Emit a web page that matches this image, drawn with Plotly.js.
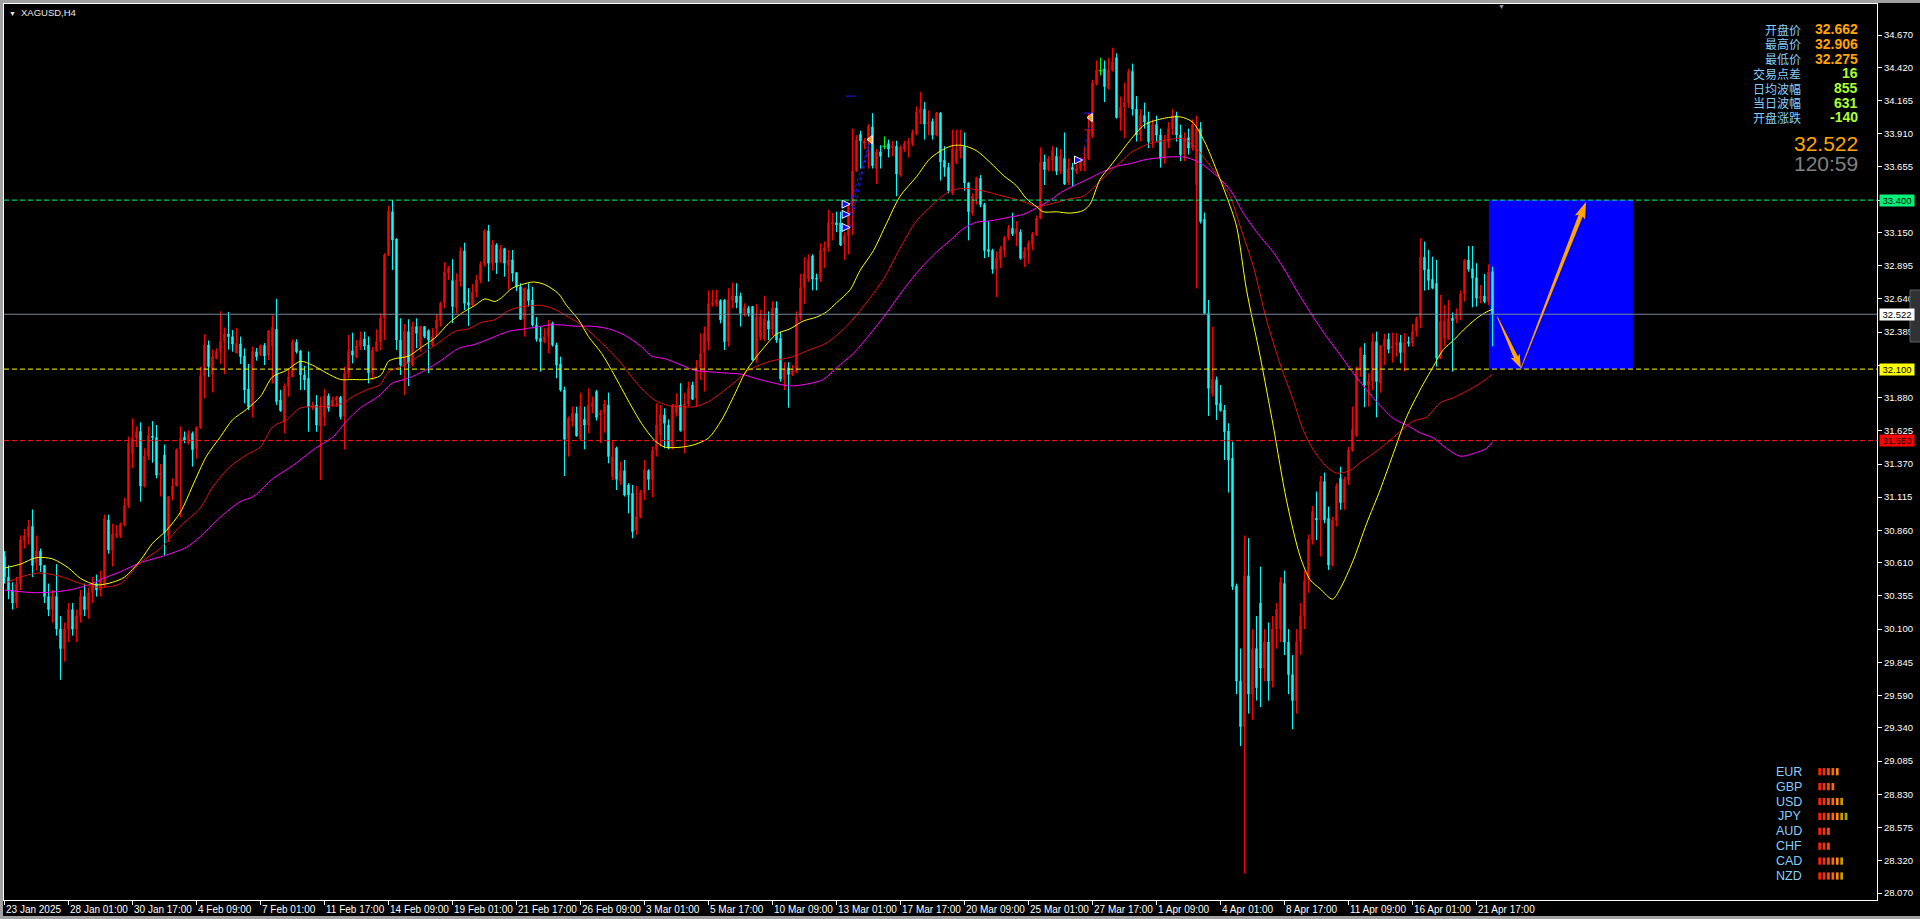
<!DOCTYPE html>
<html>
<head>
<meta charset="utf-8">
<script src="https://cdn.plot.ly/plotly-3.0.1.min.js"></script>
<style>
html,body{margin:0;padding:0;background:#000;overflow:hidden;}
#chart{position:absolute;left:0;top:0;width:1920px;height:919px;}
#frame{position:absolute;left:0;top:0;width:1920px;height:919px;box-sizing:border-box;
  border-top:3px solid #a0a0a0;border-left:3px solid #a0a0a0;border-bottom:3px solid #a0a0a0;pointer-events:none;}
</style>
</head>
<body>
<div id="chart"></div>
<div id="frame"></div>
<script>
// XAGUSD H4 bars, 23 Jan 2025 09:00 .. 22 Apr 2025 09:00 (bar index 0..372)
const openP = [
30.66,30.50,30.40,30.30,30.45,30.78,30.81,30.89,30.61,30.70,
30.59,30.35,30.25,30.35,30.10,29.95,30.10,30.25,30.10,30.20,
30.35,30.25,30.38,30.45,30.40,30.45,30.94,30.71,30.82,30.82,
30.90,31.05,31.45,31.57,31.62,31.20,31.43,31.585,31.575,31.285,
31.44,30.82,31.12,31.20,31.48,31.575,31.53,31.605,31.49,31.65,
32.05,32.285,32.06,32.18,32.236,32.313,32.37,32.35,32.226,32.293,
32.20,31.947,31.81,32.234,32.208,32.282,32.208,32.277,32.406,31.862,
31.688,31.965,32.041,32.308,32.239,32.054,32.029,31.806,31.823,31.662,
31.734,31.893,31.823,31.857,31.883,31.739,32.067,32.241,32.195,32.272,
32.331,32.285,32.072,32.241,32.311,32.491,32.978,33.311,33.101,32.324,
32.119,32.388,32.132,32.427,32.273,32.427,32.396,32.286,32.414,32.473,
32.606,32.837,32.781,32.576,32.773,33.009,32.614,32.593,32.691,32.786,
32.904,33.165,32.914,33.055,32.927,33.027,32.901,32.940,32.842,32.734,
32.483,32.714,32.632,32.439,32.337,32.311,32.350,32.452,32.286,32.140,
31.940,31.560,31.696,31.760,31.560,31.714,31.670,31.811,31.927,31.747,
31.765,31.824,31.273,31.491,31.242,31.319,31.209,31.145,30.863,30.960,
31.145,31.319,31.252,31.478,31.593,31.747,31.670,31.491,31.760,31.824,
31.627,31.832,31.978,31.876,32.114,32.222,32.311,32.593,32.601,32.627,
32.632,32.311,32.627,32.663,32.663,32.529,32.568,32.581,32.170,32.344,
32.332,32.472,32.408,32.570,32.336,32.025,32.110,32.059,32.076,32.493,
32.727,32.792,32.970,32.800,32.792,33.004,33.034,33.217,33.226,33.226,
33.068,33.124,33.354,33.622,33.907,33.835,33.856,33.963,33.643,33.771,
33.814,33.835,33.805,33.814,33.592,33.792,33.835,33.835,33.907,34.069,
34.099,33.984,34.005,33.899,34.069,33.707,33.652,33.452,33.694,33.780,
33.814,33.532,33.302,33.409,33.567,33.366,33.021,33.013,32.868,32.941,
33.013,33.111,33.183,33.141,33.154,32.953,33.013,33.056,33.132,33.260,
33.694,33.635,33.707,33.737,33.622,33.720,33.537,33.652,33.622,33.643,
33.665,33.720,33.890,34.291,34.395,34.410,34.261,34.401,34.495,34.035,
34.112,34.146,34.389,34.100,33.900,34.050,34.000,33.850,33.980,33.900,
33.720,33.850,33.950,34.050,33.900,33.750,33.880,33.800,33.520,33.950,
33.252,32.529,31.914,32.017,31.837,31.786,31.624,31.414,30.430,29.700,
29.350,30.510,29.600,29.950,30.300,29.800,30.000,29.700,30.100,30.100,
30.450,30.000,29.750,29.550,30.000,30.200,30.480,30.786,30.953,30.940,
31.235,30.953,30.593,30.935,31.260,31.073,31.247,31.473,31.586,32.106,
32.209,31.978,32.004,32.311,31.991,32.273,32.329,32.260,32.278,32.304,
32.227,32.309,32.299,32.388,32.491,32.960,32.868,32.791,32.760,32.183,
32.337,32.329,32.491,32.483,32.524,32.678,32.940,32.873,32.804,32.645,
32.662,32.619,32.850];
const highP = [
30.70,30.59,30.46,30.50,30.82,30.87,30.94,31.02,30.82,30.72,
30.59,30.45,30.40,30.60,30.20,30.15,30.30,30.30,30.25,30.40,
30.45,30.42,30.50,30.52,30.55,30.98,30.98,30.91,30.90,30.92,
31.11,31.58,31.72,31.66,31.69,31.49,31.66,31.70,31.67,31.37,
31.52,31.12,31.26,31.49,31.66,31.62,31.63,31.62,31.66,32.12,
32.37,32.32,32.25,32.26,32.544,32.42,32.54,32.40,32.416,32.35,
32.26,32.14,32.272,32.262,32.288,32.30,32.40,32.513,32.64,31.94,
31.99,32.098,32.329,32.329,32.247,32.124,32.236,31.849,31.90,31.888,
31.947,31.913,31.888,31.893,31.893,32.118,32.362,32.38,32.324,32.388,
32.388,32.35,32.272,32.406,32.529,32.991,33.357,33.401,33.106,32.491,
32.447,32.483,32.465,32.491,32.432,32.427,32.406,32.414,32.524,32.619,
32.922,32.893,32.945,32.837,33.037,33.073,32.722,32.755,32.824,32.927,
33.175,33.209,33.093,33.068,33.055,33.034,33.016,33.016,32.842,32.760,
32.727,32.760,32.734,32.500,32.427,32.414,32.478,32.465,32.304,32.196,
31.965,31.735,31.811,31.811,31.919,31.811,31.952,31.888,31.940,31.786,
31.863,31.919,31.555,31.504,31.388,31.401,31.222,31.209,31.201,31.170,
31.401,31.329,31.504,31.837,31.824,31.798,31.714,31.830,31.914,31.991,
31.919,32.004,32.004,32.170,32.375,32.427,32.704,32.709,32.709,32.637,
32.637,32.722,32.765,32.760,32.688,32.606,32.586,32.586,32.600,32.557,
32.664,32.544,32.621,32.621,32.387,32.153,32.153,32.131,32.544,32.834,
32.962,32.983,32.983,32.834,33.068,33.081,33.324,33.302,33.311,33.311,
33.153,33.379,33.950,33.899,33.933,33.877,33.984,34.069,33.792,33.822,
33.890,33.865,33.856,33.856,33.822,33.856,33.877,33.941,34.120,34.231,
34.154,34.090,34.027,34.078,34.078,33.814,33.686,33.941,33.941,33.941,
33.920,33.537,33.452,33.580,33.592,33.379,33.239,33.026,33.004,33.047,
33.124,33.209,33.303,33.239,33.175,33.038,33.090,33.154,33.281,33.805,
33.750,33.737,33.814,33.805,33.792,33.920,33.720,33.686,33.677,33.728,
33.814,34.069,34.325,34.474,34.495,34.474,34.495,34.572,34.529,34.197,
34.303,34.410,34.450,34.200,34.100,34.150,34.080,34.020,34.050,33.950,
33.900,34.000,34.100,34.080,33.980,33.920,33.950,34.020,34.050,34.000,
33.304,32.632,32.427,32.042,31.978,31.824,31.683,31.542,30.450,29.950,
30.820,30.800,30.100,30.200,30.580,30.100,30.150,30.200,30.300,30.500,
30.550,30.100,29.900,30.100,30.300,30.550,30.825,31.047,31.158,31.278,
31.304,31.042,30.965,31.222,31.350,31.273,31.504,31.811,32.119,32.273,
32.299,32.068,32.376,32.388,32.286,32.370,32.376,32.381,32.376,32.363,
32.376,32.350,32.447,32.504,33.106,33.081,33.017,32.965,32.940,32.670,
32.594,32.632,32.535,32.568,32.704,32.945,33.047,33.047,32.914,32.747,
32.832,32.906,32.888];
const lowP = [
30.45,30.33,30.25,30.26,30.40,30.72,30.75,30.50,30.55,30.54,
30.30,30.20,30.15,30.05,29.71,29.85,30.00,30.05,30.00,30.15,
30.20,30.18,30.30,30.35,30.35,30.42,30.68,30.58,30.80,30.80,
30.89,31.03,31.34,31.50,31.08,31.19,31.40,31.38,31.26,31.12,
30.67,30.77,31.09,31.20,30.96,31.53,31.52,31.35,31.41,31.64,
31.875,32.04,31.92,32.18,32.14,32.06,32.25,32.234,32.22,32.14,
31.836,31.785,31.729,32.165,32.20,32.131,32.17,31.99,31.824,31.772,
31.606,31.888,32.04,32.22,31.939,31.939,31.618,31.785,31.618,31.247,
31.662,31.772,31.81,31.81,31.713,31.482,32.029,32.144,32.183,32.247,
32.247,31.99,32.016,32.234,32.247,32.324,32.970,32.863,32.247,32.055,
31.900,31.970,32.119,32.260,32.234,32.337,32.068,32.273,32.350,32.427,
32.568,32.786,32.452,32.529,32.734,32.555,32.432,32.581,32.652,32.760,
32.888,32.773,32.858,32.832,32.914,32.811,32.709,32.773,32.700,32.478,
32.350,32.581,32.427,32.311,32.081,32.299,32.222,32.273,32.030,31.927,
31.278,31.427,31.658,31.581,31.555,31.483,31.606,31.760,31.704,31.530,
31.611,31.375,31.247,31.170,31.209,31.120,30.991,30.799,30.824,30.952,
31.094,31.170,31.114,31.427,31.504,31.491,31.483,31.483,31.735,31.619,
31.452,31.811,31.863,31.811,32.017,31.927,32.247,32.581,32.581,32.452,
32.247,32.273,32.568,32.568,32.427,32.504,32.504,32.165,32.150,32.323,
32.315,32.323,32.357,32.302,32.004,31.940,31.803,32.046,32.068,32.472,
32.600,32.770,32.706,32.706,32.770,32.877,33.004,33.090,33.153,33.047,
32.940,32.983,33.132,33.620,33.643,33.792,33.643,33.643,33.524,33.643,
33.792,33.728,33.737,33.430,33.580,33.771,33.728,33.814,33.899,33.984,
33.865,33.899,33.865,33.890,33.550,33.580,33.452,33.439,33.677,33.720,
33.473,33.090,33.281,33.366,33.345,32.953,32.962,32.834,32.655,32.877,
32.962,33.090,33.124,33.047,32.941,32.885,32.911,33.013,33.124,33.252,
33.516,33.622,33.622,33.592,33.601,33.516,33.516,33.507,33.601,33.622,
33.622,33.707,33.877,34.282,34.359,34.154,34.248,34.389,34.027,33.933,
33.877,34.112,34.050,33.850,33.850,33.950,33.800,33.800,33.850,33.650,
33.680,33.800,33.900,33.850,33.700,33.700,33.750,33.780,32.720,33.220,
32.524,31.740,31.888,31.709,31.773,31.401,31.150,30.401,29.600,29.200,
28.220,29.450,29.400,29.550,29.500,29.700,29.550,29.650,29.950,30.000,
29.900,29.600,29.330,29.450,29.900,30.100,30.380,30.750,30.786,30.658,
30.914,30.555,30.581,30.888,31.017,31.017,31.209,31.465,31.581,32.042,
31.806,31.811,31.940,31.729,31.919,32.132,32.222,32.150,32.196,32.145,
32.081,32.273,32.273,32.350,32.414,32.704,32.709,32.714,32.119,32.176,
32.273,32.324,32.081,32.452,32.478,32.619,32.850,32.576,32.581,32.606,
32.606,32.594,32.275];
const closeP = [
30.50,30.40,30.30,30.45,30.785,30.82,30.89,30.59,30.70,30.59,
30.35,30.25,30.35,30.10,29.95,30.10,30.25,30.10,30.20,30.35,
30.25,30.38,30.45,30.40,30.48,30.95,30.71,30.83,30.83,30.91,
31.05,31.53,31.57,31.62,31.20,31.43,31.59,31.575,31.285,31.30,
30.84,31.12,31.20,31.48,31.57,31.555,31.605,31.48,31.65,32.05,
32.285,32.12,32.195,32.236,32.313,32.37,32.35,32.293,32.298,32.195,
31.94,31.806,32.236,32.195,32.282,32.20,32.395,32.421,31.85,31.78,
31.97,32.041,32.31,32.234,32.054,32.016,31.81,31.823,31.67,31.816,
31.893,31.798,31.862,31.883,31.734,32.067,32.236,32.208,32.277,32.324,
32.277,32.072,32.246,32.31,32.491,32.978,33.311,33.093,32.324,32.132,
32.388,32.145,32.427,32.375,32.427,32.350,32.324,32.350,32.478,32.606,
32.847,32.875,32.581,32.786,33.009,32.606,32.593,32.691,32.786,32.904,
33.165,32.914,33.055,32.919,33.027,32.914,32.940,32.837,32.734,32.483,
32.722,32.627,32.439,32.329,32.311,32.350,32.414,32.286,32.132,31.940,
31.560,31.722,31.760,31.586,31.817,31.670,31.824,31.842,31.729,31.765,
31.832,31.427,31.427,31.252,31.319,31.132,31.132,30.850,30.965,31.150,
31.324,31.252,31.473,31.670,31.747,31.683,31.491,31.824,31.824,31.627,
31.832,31.952,31.868,32.114,32.217,32.375,32.601,32.611,32.637,32.478,
32.311,32.632,32.663,32.611,32.529,32.573,32.529,32.170,32.500,32.502,
32.485,32.408,32.570,32.323,32.025,32.102,32.059,32.102,32.502,32.727,
32.834,32.941,32.792,32.792,33.013,33.034,33.226,33.234,33.209,33.055,
33.124,33.366,33.622,33.865,33.856,33.856,33.971,33.665,33.771,33.737,
33.814,33.792,33.814,33.601,33.805,33.835,33.848,33.920,34.078,34.099,
33.984,33.992,33.899,34.069,33.694,33.652,33.473,33.792,33.792,33.814,
33.532,33.311,33.430,33.567,33.366,33.013,33.004,32.868,32.953,33.026,
33.111,33.183,33.141,33.183,32.953,33.004,33.068,33.141,33.260,33.694,
33.635,33.720,33.780,33.622,33.737,33.524,33.643,33.635,33.643,33.707,
33.720,33.941,34.303,34.401,34.395,34.274,34.401,34.461,34.035,34.112,
34.154,34.389,34.100,33.900,34.050,34.000,33.850,33.980,33.900,33.720,
33.850,33.950,34.050,33.900,33.750,33.880,33.800,33.980,33.950,33.235,
32.529,31.952,32.022,31.824,31.781,31.619,31.401,30.427,29.700,29.350,
30.510,29.600,29.950,29.650,29.800,30.000,29.700,30.100,30.250,30.460,
30.000,29.750,29.550,30.000,30.200,30.470,30.790,31.004,30.940,31.235,
30.940,30.593,30.940,31.201,31.073,31.252,31.478,31.637,32.106,32.260,
31.978,32.009,32.311,32.004,32.278,32.329,32.252,32.278,32.304,32.227,
32.304,32.299,32.388,32.491,32.960,32.863,32.781,32.722,32.183,32.465,
32.465,32.491,32.473,32.524,32.678,32.935,32.868,32.799,32.645,32.658,
32.619,32.847,32.522];

// Moving averages, [bar index, value]
const maFast = [[0,30.57],[4,30.60],[8,30.65],[12,30.64],[16,30.57],[19,30.49],[23,30.44],[27,30.46],[30,30.50],[34,30.63],[37,30.76],[40.5,30.86],[44,31.00],[47,31.20],[50.5,31.43],[54,31.58],[57,31.71],[60.5,31.79],[64,31.89],[67,32.04],[70.5,32.09],[74,32.16],[77,32.13],[80.5,32.07],[84,32.02],[87,32.02],[90.5,32.02],[94,32.05],[96,32.16],[97.6,32.18],[101,32.20],[104.3,32.27],[107.6,32.34],[111,32.45],[114.3,32.53],[117.6,32.59],[120.1,32.64],[122.6,32.62],[124.3,32.65],[126.8,32.72],[129.3,32.75],[132.2,32.77],[135.1,32.75],[138.5,32.68],[140.5,32.59],[143.5,32.48],[146,32.35],[149.3,32.22],[151.8,32.09],[154.3,31.95],[156.8,31.81],[159.3,31.68],[162.6,31.55],[165.1,31.50],[169.3,31.50],[172.6,31.52],[176,31.57],[179.3,31.71],[182.6,31.91],[185.1,32.07],[187.6,32.18],[189.7,32.26],[193,32.37],[196.4,32.41],[199.7,32.47],[203,32.50],[205.5,32.54],[208,32.61],[211.4,32.71],[213.9,32.86],[217.2,33.01],[220.5,33.22],[223.9,33.43],[228,33.58],[231.4,33.72],[234.7,33.79],[237.2,33.82],[239.7,33.82],[243,33.78],[246.4,33.69],[249.7,33.59],[253,33.51],[255.5,33.41],[258,33.35],[259.7,33.31],[263,33.31],[266.4,33.30],[269.7,33.32],[271.4,33.37],[273.9,33.56],[276.4,33.66],[278.9,33.76],[281.4,33.86],[285,33.98],[290,34.03],[294,34.04],[297,34.00],[300,33.85],[303,33.63],[305.5,33.43],[308,33.20],[310.5,32.71],[313.9,32.20],[317.2,31.66],[320.5,31.09],[323.9,30.66],[326.4,30.48],[328.9,30.41],[332,30.33],[333.9,30.41],[337.2,30.63],[340.5,30.91],[343.9,31.17],[347.2,31.45],[350.5,31.73],[353.9,31.94],[357.2,32.12],[359.7,32.25],[362.2,32.32],[364.7,32.40],[368,32.49],[370.5,32.54],[372,32.56]];
const maMid = [[0,30.45],[4,30.50],[8,30.53],[12,30.52],[15.5,30.49],[19,30.45],[24,30.42],[29,30.45],[33.9,30.61],[38.9,30.72],[43.9,30.89],[48.9,31.03],[52.2,31.20],[56.4,31.35],[60.5,31.44],[63.9,31.50],[67.2,31.66],[70.5,31.71],[73.9,31.80],[78.9,31.81],[82.2,31.82],[84.7,31.84],[87.2,31.89],[90.5,31.94],[93.9,31.98],[96,32.08],[99.3,32.12],[102.6,32.18],[106,32.25],[109.3,32.32],[112.6,32.39],[116,32.41],[119.3,32.46],[122.6,32.48],[126,32.55],[129.3,32.58],[132.6,32.59],[134.3,32.59],[137.6,32.56],[141,32.50],[144.3,32.44],[147.6,32.35],[151,32.25],[154.3,32.14],[156.8,32.04],[159.3,31.95],[162.6,31.86],[166,31.82],[169.3,31.81],[172.6,31.81],[176,31.85],[179.3,31.92],[182.6,32.00],[186,32.09],[191.4,32.16],[196.4,32.19],[201.4,32.25],[205.5,32.30],[210.5,32.43],[214.7,32.58],[219.7,32.79],[223.9,33.03],[228,33.24],[232.2,33.37],[236.4,33.47],[239.7,33.49],[244.7,33.47],[249.7,33.43],[254.7,33.39],[258,33.35],[261.4,33.37],[266.4,33.41],[269.7,33.43],[273,33.52],[276.4,33.62],[279.7,33.71],[281.4,33.76],[285,33.82],[290,33.86],[295,33.87],[298,33.80],[300,33.72],[303,33.60],[306.4,33.43],[308.9,33.20],[312.2,32.89],[315.5,32.48],[318.9,32.14],[322.2,31.86],[324.7,31.63],[327.2,31.48],[330.5,31.35],[333,31.30],[336.4,31.32],[338.9,31.38],[342.2,31.45],[345.5,31.53],[348.9,31.62],[352.2,31.70],[355.5,31.73],[358.9,31.84],[362.2,31.88],[365.5,31.93],[368.9,31.99],[372,32.06]];
const maSlow = [[0,30.40],[8,30.38],[16,30.40],[22,30.45],[24.7,30.49],[28.9,30.54],[33.9,30.61],[40.5,30.67],[45.5,30.73],[48.9,30.81],[53.9,30.96],[58.9,31.08],[62.2,31.12],[67.2,31.26],[72.2,31.36],[77.2,31.48],[82.2,31.58],[85.5,31.70],[88.9,31.80],[93.9,31.90],[96.8,31.99],[101,32.03],[105.1,32.09],[109.3,32.17],[113.5,32.26],[117.6,32.29],[121.8,32.34],[126,32.39],[130.1,32.41],[134.3,32.43],[136,32.44],[139.3,32.44],[142.6,32.43],[146.8,32.43],[151,32.41],[155.1,32.36],[159.3,32.27],[161.8,32.20],[165.1,32.18],[169.3,32.13],[172.6,32.09],[176,32.08],[180.1,32.07],[184.3,32.06],[187.6,32.03],[191.4,32.00],[196.4,31.97],[201.4,31.99],[204.7,32.02],[208,32.11],[212.2,32.22],[216.4,32.37],[220.5,32.53],[224.7,32.71],[228.9,32.87],[233,33.00],[236.4,33.09],[239.7,33.18],[243,33.23],[246.4,33.24],[251.4,33.27],[254.7,33.29],[258,33.34],[261.4,33.40],[264.7,33.47],[268,33.52],[271.4,33.57],[274.7,33.62],[278,33.66],[281.4,33.68],[285,33.71],[290,33.73],[295,33.73],[298,33.70],[301.4,33.63],[306.4,33.48],[309.7,33.30],[313.9,33.12],[317.2,33.00],[320.5,32.84],[323.9,32.66],[327.2,32.50],[330.5,32.35],[333.9,32.21],[337.2,32.07],[340.5,31.94],[343.9,31.82],[347.2,31.72],[350.5,31.67],[353.9,31.61],[357.2,31.57],[360.5,31.49],[363.9,31.43],[367.2,31.45],[370.5,31.49],[372,31.54]];

// Time axis labels, one every 16 bars
const timeLabels = ["23 Jan 2025","28 Jan 01:00","30 Jan 17:00","4 Feb 09:00","7 Feb 01:00","11 Feb 17:00","14 Feb 09:00","19 Feb 01:00","21 Feb 17:00","26 Feb 09:00","3 Mar 01:00","5 Mar 17:00","10 Mar 09:00","13 Mar 01:00","17 Mar 17:00","20 Mar 09:00","25 Mar 01:00","27 Mar 17:00","1 Apr 09:00","4 Apr 01:00","8 Apr 17:00","11 Apr 09:00","16 Apr 01:00","21 Apr 17:00"];
const labelStep = 16;
// Price scale labels
const priceTicks = [34.670,34.420,34.165,33.910,33.655,33.400,33.150,32.895,32.640,32.385,32.130,31.880,31.625,31.370,31.115,30.860,30.610,30.355,30.100,29.845,29.590,29.340,29.085,28.830,28.575,28.320,28.070];

// Horizontal levels
const levelTarget = 33.400, levelSupport = 32.100, levelStop = 31.550;
// Trade history markers
const buyBars = [211.4,211.4,211.4,269.5];
const buyPrices = [33.369,33.290,33.190,33.708];
const closeBars = [216.5,271.5];
const closePrices = [33.866,34.035];
const closeOfTrade = [0,0,0,1];
const tpBars = [211.6,271.0], tpPrices = [34.200,34.070];
const slBars = [271.0], slPrices = [33.940];
// Projected path (bar index / price)
const pathBars = [373.2,379.1,395.4];
const pathPrices = [32.503,32.106,33.388];
const zoneStartBar = 371.1, zoneEndBar = 407.1;

// Quote panel
const quoteNames = ["开盘价","最高价","最低价","交易点差","日均波幅","当日波幅","开盘涨跌"];
const quoteValues = ["32.662","32.906","32.275","16","855","631","-140"];
const bidText = "32.522", timerText = "120:59";
// Currency strength panel
const currencies = ["EUR","GBP","USD","JPY","AUD","CHF","CAD","NZD"];
const strength = [5,4,6,7,3,3,6,6];

// ---- layout geometry (pixels) ----
const W = 1920, H = 919;
const PL = 4, PR = 1877, PT = 4, PB = 900;
const BAR_PX = 4, BAR0_PX = 4.5;          // bar spacing and first bar centre
const PRICE_REF = 34.670, PRICE_REF_PX = 35, PX_PER_UNIT = 130;
const pxX = x => (x - PL) / (PR - PL);
const pxY = y => (PB - y) / (PB - PT);
const yTop = PRICE_REF + (PRICE_REF_PX - PT) / PX_PER_UNIT, yBot = PRICE_REF - (PB - PRICE_REF_PX) / PX_PER_UNIT;
const xLeft = (PL - BAR0_PX) / BAR_PX, xRight = (PR - BAR0_PX) / BAR_PX;
const barToPx = b => BAR0_PX + b * BAR_PX, pxToBar = x => (x - BAR0_PX) / BAR_PX;
const priceToPx = p => PRICE_REF_PX + (PRICE_REF - p) * PX_PER_UNIT, pxToPrice = y => PRICE_REF - (y - PRICE_REF_PX) / PX_PER_UNIT;

const FONT = "Liberation Sans, Arial, sans-serif";
const lastClose = closeP[closeP.length - 1];
const levelBoxes = [levelTarget, lastClose, levelSupport, levelStop];
// scale labels that sit under a level box are hidden by it
const hiddenTick = v => levelBoxes.some(l => Math.abs(priceToPx(l) - priceToPx(v)) < 8);

const idx = openP.map((_, i) => i);
const reg = idx.filter(i => openP[i] !== closeP[i]);
const doj = idx.filter(i => openP[i] === closeP[i]);
const pick = (a, l) => l.map(i => a[i]);

const traces = [];
traces.push({
  type: 'candlestick', x: reg,
  open: pick(openP, reg), high: pick(highP, reg), low: pick(lowP, reg), close: pick(closeP, reg),
  increasing: {line: {color: '#ff0000', width: 1}, fillcolor: '#ff0000'},
  decreasing: {line: {color: '#00ffff', width: 1}, fillcolor: '#00ffff'},
  whiskerwidth: 0, hoverinfo: 'skip', showlegend: false
});
// doji bars
const dx = [], dy = [];
doj.forEach(i => { dx.push(i, i, null); dy.push(lowP[i], highP[i], null); });
traces.push({type: 'scatter', mode: 'lines', x: dx, y: dy, line: {color: '#00ff00', width: 1}, hoverinfo: 'skip', showlegend: false});
traces.push({type: 'scatter', mode: 'markers', x: doj, y: pick(openP, doj), marker: {symbol: 'line-ew', size: 3, line: {color: '#00ff00', width: 1}}, hoverinfo: 'skip', showlegend: false});

function maTrace(pairs, color) {
  return {type: 'scatter', mode: 'lines', x: pairs.map(p => p[0]), y: pairs.map(p => p[1]),
    line: {color: color, width: 1, shape: 'spline', smoothing: 0.8}, hoverinfo: 'skip', showlegend: false};
}
traces.push(maTrace(maSlow, '#ff00ff'));
traces.push(maTrace(maMid, '#e01010'));
traces.push(maTrace(maFast, '#ffff00'));

// trade links
const lx = [], ly = [];
buyBars.forEach((b, k) => { const c = closeOfTrade[k]; lx.push(b, closeBars[c], null); ly.push(buyPrices[k], closePrices[c], null); });
traces.push({type: 'scatter', mode: 'lines', x: lx, y: ly, line: {color: '#1e1eff', width: 1, dash: 'dot'}, hoverinfo: 'skip', showlegend: false});
traces.push({type: 'scatter', mode: 'markers', x: tpBars, y: tpPrices, marker: {symbol: 'line-ew', size: 7, line: {color: '#1e1eff', width: 1}}, hoverinfo: 'skip', showlegend: false});
traces.push({type: 'scatter', mode: 'markers', x: slBars, y: slPrices, marker: {symbol: 'line-ew', size: 6, line: {color: '#ff0000', width: 1}}, hoverinfo: 'skip', showlegend: false});
traces.push({type: 'scatter', mode: 'markers', x: buyBars, y: buyPrices, marker: {symbol: 'arrow-right', size: 8, color: '#1010ff', line: {color: '#ffffff', width: 1}}, hoverinfo: 'skip', showlegend: false});
traces.push({type: 'scatter', mode: 'markers', x: closeBars, y: closePrices, marker: {symbol: 'triangle-left', size: 7, color: '#ff9a00', line: {color: '#ffffff', width: 1}}, hoverinfo: 'skip', showlegend: false});

// ---- shapes ----
const shapes = [];
shapes.push({type: 'rect', xref: 'x', yref: 'y', x0: zoneStartBar, x1: zoneEndBar, y0: levelSupport, y1: levelTarget,
  fillcolor: '#0000ff', line: {width: 0}, layer: 'below'});
function hline(v, color, dash) {
  return {type: 'line', xref: 'paper', yref: 'y', x0: 0, x1: 1, y0: v, y1: v, line: {color: color, width: 1, dash: dash}, layer: 'above'};
}
shapes.push(hline(levelTarget, '#00ff7f', '5px,3px'));
shapes.push(hline(levelSupport, '#ffff00', '5px,3px'));
shapes.push(hline(levelStop, '#ff1a1a', '5px,3px'));
shapes.push(hline(lastClose, '#778899', 'solid'));

// tapered arrows along the projected path (built in pixel space, placed in data units)
function taperedArrow(b0, p0, b1, p1, headLen, headW, shaftW) {
  const x0 = barToPx(b0), y0 = priceToPx(p0), x1 = barToPx(b1), y1 = priceToPx(p1);
  const len = Math.hypot(x1 - x0, y1 - y0), ux = (x1 - x0) / len, uy = (y1 - y0) / len, nx = -uy, ny = ux;
  const bx = x1 - ux * headLen, by = y1 - uy * headLen;
  const pts = [
    [x0 + nx * 0.4, y0 + ny * 0.4], [bx + nx * shaftW / 2, by + ny * shaftW / 2], [bx + nx * headW / 2 - ux * 2, by + ny * headW / 2 - uy * 2],
    [x1, y1],
    [bx - nx * headW / 2 - ux * 2, by - ny * headW / 2 - uy * 2], [bx - nx * shaftW / 2, by - ny * shaftW / 2], [x0 - nx * 0.4, y0 - ny * 0.4]
  ];
  const d = pts.map((p, k) => (k ? 'L' : 'M') + pxToBar(p[0]).toFixed(4) + ',' + pxToPrice(p[1]).toFixed(5)).join(' ') + ' Z';
  return {type: 'path', xref: 'x', yref: 'y', path: d, fillcolor: '#ffa500', line: {width: 0}, layer: 'above'};
}
for (let k = 0; k < pathBars.length - 1; k++) {
  shapes.push(taperedArrow(pathBars[k], pathPrices[k], pathBars[k + 1], pathPrices[k + 1], k ? 15 : 12, k ? 11 : 10, 4.5));
}

// currency strength bars
const barColors = ['#ff1e00','#ff3000','#ff4a00','#ff6a00','#ff8c00','#c89c00','#9cac00'];
currencies.forEach((c, k) => {
  const yc = 771.7 + k * 14.9;
  for (let j = 0; j < strength[k]; j++) {
    const x0 = 1818.3 + j * 4.4;
    shapes.push({type: 'rect', xref: 'paper', yref: 'paper', x0: pxX(x0), x1: pxX(x0 + 2.7), y0: pxY(yc + 3.6), y1: pxY(yc - 3.6),
      fillcolor: barColors[j], line: {width: 0}, layer: 'above'});
  }
});
// small scroll widget on the price scale
shapes.push({type: 'rect', xref: 'paper', yref: 'paper', x0: pxX(1910), x1: pxX(1921), y0: pxY(342), y1: pxY(290),
  fillcolor: '#303236', line: {color: '#5a5d63', width: 1}, layer: 'above'});

// ---- annotations ----
const ann = [];
ann.push({xref: 'paper', yref: 'paper', x: pxX(12), y: pxY(13), text: '▼', showarrow: false, font: {family: FONT, size: 7, color: '#e8e8e8'}, xanchor: 'center', yanchor: 'middle'});
ann.push({xref: 'paper', yref: 'paper', x: pxX(19), y: pxY(12.5), text: 'XAGUSD,H4', showarrow: false, font: {family: FONT, size: 9.5, color: '#e8e8e8'}, xanchor: 'left', yanchor: 'middle'});
ann.push({xref: 'paper', yref: 'paper', x: pxX(1501), y: pxY(6), text: '▼', showarrow: false, font: {family: FONT, size: 7, color: '#9a9a9a'}, xanchor: 'center', yanchor: 'middle'});

timeLabels.forEach((t, k) => {
  ann.push({xref: 'x', yref: 'paper', x: k * labelStep, y: pxY(910), text: t, showarrow: false,
    font: {family: FONT, size: 10, color: '#ffffff'}, xanchor: 'left', yanchor: 'middle', xshift: -1});
});

function priceBox(v, bg) {
  return {xref: 'paper', yref: 'y', x: pxX(1879), y: v, text: v.toFixed(3), showarrow: false, xanchor: 'left', yanchor: 'middle',
    width: 34, height: 11, bgcolor: bg, borderpad: 0, align: 'center', font: {family: FONT, size: 9.5, color: '#000000'}};
}
ann.push(priceBox(levelTarget, '#00f27a'));
ann.push(priceBox(lastClose, '#ffffff'));
ann.push(priceBox(levelSupport, '#ffff00'));
ann.push(priceBox(levelStop, '#ff0000'));

quoteNames.forEach((n, k) => {
  const yy = 29.3 + k * 14.7;
  ann.push({xref: 'paper', yref: 'paper', x: pxX(1803), y: pxY(yy), text: n, showarrow: false, xanchor: 'right', yanchor: 'middle',
    font: {family: 'Noto Sans CJK SC, sans-serif', size: 12, color: '#87cefa'}});
  ann.push({xref: 'paper', yref: 'paper', x: pxX(1860), y: pxY(yy), text: '<b>' + quoteValues[k] + '</b>', showarrow: false, xanchor: 'right', yanchor: 'middle',
    font: {family: FONT, size: 14, color: k < 3 ? '#ffa500' : '#adff2f'}});
});
ann.push({xref: 'paper', yref: 'paper', x: pxX(1860), y: pxY(143.5), text: bidText, showarrow: false, xanchor: 'right', yanchor: 'middle',
  font: {family: FONT, size: 21, color: '#ffa500'}});
ann.push({xref: 'paper', yref: 'paper', x: pxX(1860), y: pxY(163.5), text: timerText, showarrow: false, xanchor: 'right', yanchor: 'middle',
  font: {family: FONT, size: 21, color: '#808080'}});

currencies.forEach((c, k) => {
  ann.push({xref: 'paper', yref: 'paper', x: pxX(1804), y: pxY(771.7 + k * 14.9), text: c, showarrow: false, xanchor: 'right', yanchor: 'middle',
    font: {family: FONT, size: 12.5, color: '#87cefa'}});
});

const layout = {
  width: W, height: H,
  margin: {l: PL, r: W - PR, t: PT, b: H - PB, pad: 0},
  paper_bgcolor: '#000000', plot_bgcolor: '#000000',
  showlegend: false, boxgap: 0.5,
  xaxis: {type: 'linear', range: [xLeft, xRight], showgrid: false, zeroline: false,
    showline: true, linecolor: '#ffffff', linewidth: 1, mirror: true,
    tickmode: 'array', tickvals: timeLabels.map((_, k) => k * labelStep), ticks: 'outside', ticklen: 4, tickcolor: '#ffffff', tickwidth: 1,
    showticklabels: false, rangeslider: {visible: false}, fixedrange: true},
  yaxis: {range: [yBot, yTop], side: 'right', showgrid: false, zeroline: false,
    showline: true, linecolor: '#ffffff', linewidth: 1, mirror: true,
    tickmode: 'array', tickvals: priceTicks, ticktext: priceTicks.map(v => hiddenTick(v) ? '' : v.toFixed(3)),
    ticks: 'outside', ticklen: 4, tickcolor: '#ffffff', tickwidth: 1,
    tickfont: {family: FONT, size: 9.5, color: '#ffffff'}, fixedrange: true},
  shapes: shapes, annotations: ann
};

Plotly.newPlot('chart', traces, layout, {staticPlot: true, displayModeBar: false});
</script>
</body>
</html>
